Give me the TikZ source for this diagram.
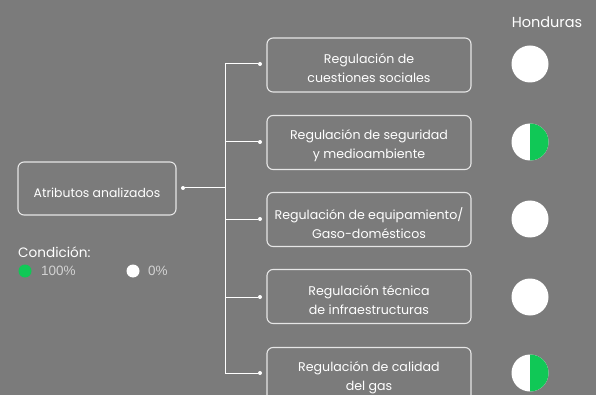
\documentclass[tikz,border=0pt]{standalone}
\usepackage{fontspec}
\setmainfont{Poppins}
\newfontfamily\legfont{Liberation Sans}
\definecolor{bg}{HTML}{7B7B7B}
\definecolor{edge}{HTML}{E6E6E6}
\definecolor{grn}{HTML}{10C856}
\definecolor{leg}{HTML}{D2D2D2}
\tikzset{
  attr/.style={draw=edge,line width=1.1pt,rounded corners=6pt,minimum width=204pt,minimum height=54pt,inner sep=0pt},
  lbl/.style={align=center,text=white,font=\fontsize{12.6}{19}\selectfont,inner sep=0pt},
  wire/.style={draw=white,line width=1pt},
  dotw/.style={circle,fill=white,inner sep=0pt,minimum size=4pt},
  full/.style={circle,fill=white,inner sep=0pt,minimum size=37pt},
}
\begin{document}
\begin{tikzpicture}[x=1pt,y=-1pt]
\fill[bg] (0,0) rectangle (596,395);
\useasboundingbox (0,0) rectangle (596,395);
\node[attr,minimum width=158pt,minimum height=53pt] (root) at (97,188.5) {};
\node[lbl,font=\fontsize{12.4}{18}\selectfont] (rootl) at ([yshift=-4pt]root.center) {Atributos analizados};
\foreach \i/\y/\t in {1/65/{Regulación de\\cuestiones sociales},
                      2/142.5/{Regulación de seguridad\\y medioambiente},
                      3/219.5/{Regulación de equipamiento/\\Gaso-domésticos},
                      4/296.5/{Regulación técnica\\de infraestructuras},
                      5/374.5/{Regulación de calidad\\del gas}}{
  \node[attr] (b\i) at (369,\y) {};
  \node[lbl] (t\i) at ([yshift=-3.5pt]b\i.center) {\t};
}
\coordinate (trunk) at (225,188);
\node[dotw] (d0) at (183,188) {};
\draw[wire] (d0) -- (trunk);
\foreach \i/\y in {1/64,2/142,3/219,4/297,5/373}{
  \node[dotw] (d\i) at (260,\y) {};
  \draw[wire] (225,\y) -- (d\i);
}
\draw[wire] (225,64) -- (225,373);
\node[text=white,font=\fontsize{14.5}{16}\selectfont] (hon) at (547,22) {Honduras};
\node[full] (c1) at (530,64) {};
\node[full] (c2) at (530,142) {};
\fill[grn] (530,142) ++(0,-18.5) arc[start angle=90,end angle=-90,radius=18.5pt] -- cycle;
\node[full] (c3) at (530,219) {};
\node[full] (c4) at (530,297) {};
\node[full] (c5) at (530,373) {};
\fill[grn] (530,373) ++(0,-18.5) arc[start angle=90,end angle=-90,radius=18.5pt] -- cycle;
\node[anchor=west,text=white,font=\fontsize{13.6}{15}\selectfont,inner sep=0pt] (cond) at (18,252) {Condición:};
\node[circle,fill=grn,inner sep=0pt,minimum size=13pt] (lg) at (25,271) {};
\node[anchor=west,text=leg,font=\legfont\fontsize{13.5}{15}\selectfont,inner sep=0pt] (lgt) at (41,271) {100\%};
\node[circle,fill=white,inner sep=0pt,minimum size=13pt] (lw) at (133,271) {};
\node[anchor=west,text=leg,font=\legfont\fontsize{13.5}{15}\selectfont,inner sep=0pt] (lwt) at (148,271) {0\%};
\end{tikzpicture}
\end{document}
